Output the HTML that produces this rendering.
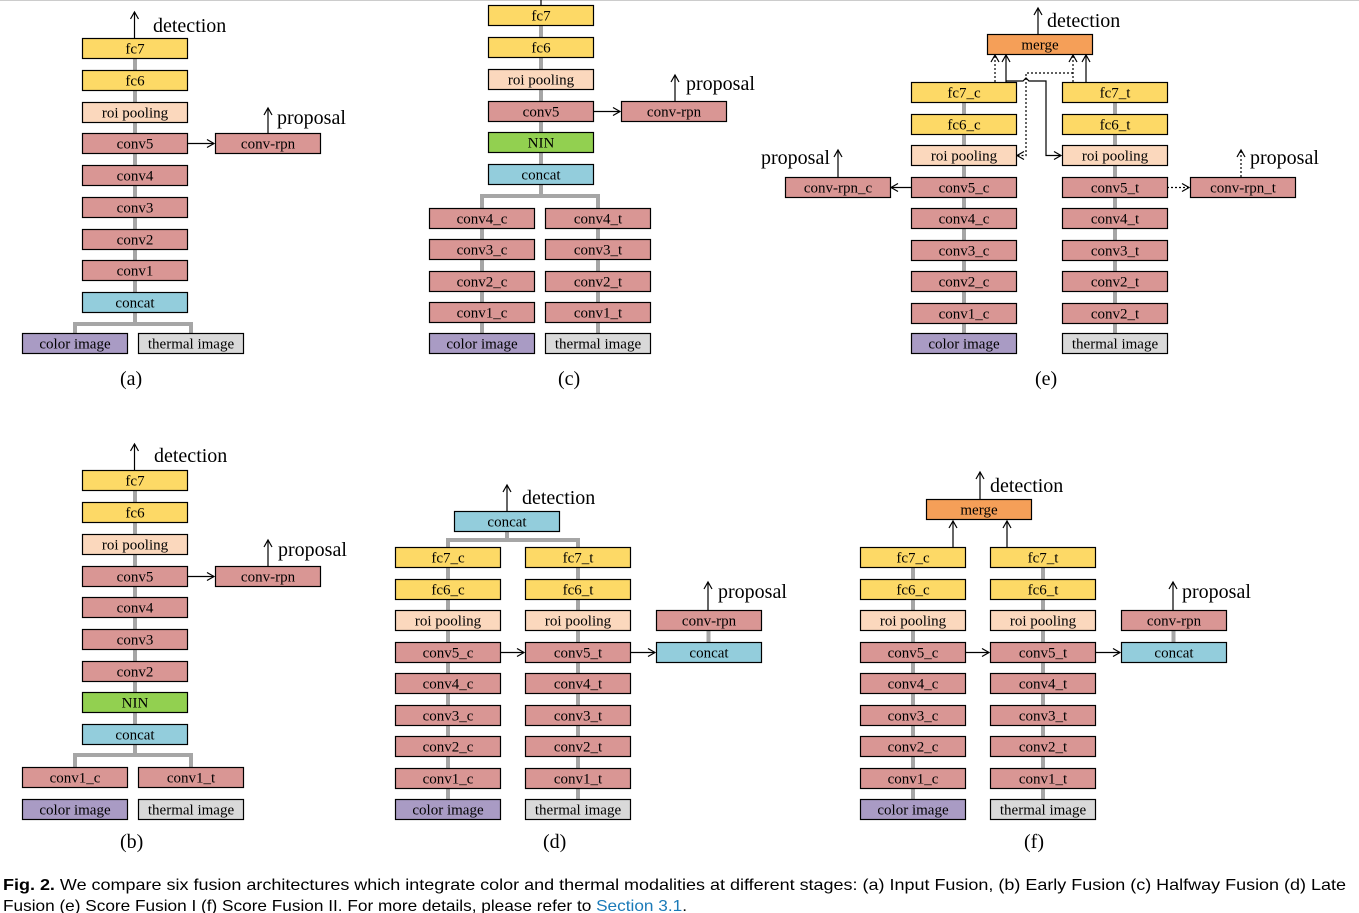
<!DOCTYPE html>
<html><head><meta charset="utf-8">
<style>
html,body{margin:0;padding:0;background:#fff;}
svg{display:block;}
.bt{font-family:"Liberation Serif",serif;font-size:15px;}
.lb{font-family:"Liberation Serif",serif;font-size:20px;}
.cap{font-family:"Liberation Sans",sans-serif;font-size:16px;}
</style></head>
<body>
<svg id="fig" width="1359" height="913" viewBox="0 0 1359 913" xmlns="http://www.w3.org/2000/svg">
<defs>
<marker id="ah" markerWidth="10" markerHeight="10" refX="8" refY="5" orient="auto" markerUnits="userSpaceOnUse">
<path d="M1,1 L8,5 L1,9" fill="none" stroke="#000" stroke-width="1.2"/>
</marker>
</defs>
<line x1="0" y1="0.5" x2="1359" y2="0.5" stroke="#ccc" stroke-width="1"/>
<g id="grey"></g>
<g id="arrows"></g>
<g id="boxes"></g>
<g id="labels"></g>
<text class="cap" x="3" y="890" textLength="1343" lengthAdjust="spacingAndGlyphs"><tspan font-weight="bold">Fig. 2.</tspan> We compare six fusion architectures which integrate color and thermal modalities at different stages: (a) Input Fusion, (b) Early Fusion (c) Halfway Fusion (d) Late</text>
<text class="cap" x="3" y="911" textLength="684" lengthAdjust="spacingAndGlyphs">Fusion (e) Score Fusion I (f) Score Fusion II. For more details, please refer to <tspan fill="#1a7ab8">Section 3.1</tspan>.</text>
</svg>
<script>
const NS='http://www.w3.org/2000/svg';
const W=105,H=21;
const C={fc:'#fdd966',roi:'#fbd8bd',conv:'#d99694',cat:'#93cddc',nin:'#92d050',col:'#a99bc4',th:'#d9d9d9',mg:'#f59f58'};
const G=document.getElementById('grey'),A=document.getElementById('arrows'),B=document.getElementById('boxes'),L=document.getElementById('labels');
function box(x,y,t,c,name){
  const g=document.createElementNS(NS,'g');
  
  
  const r=document.createElementNS(NS,'rect');
  r.setAttribute('x',x+0.5);r.setAttribute('y',y+0.5);r.setAttribute('width',W);r.setAttribute('height',H-1);
  r.setAttribute('fill',C[c]);r.setAttribute('stroke','#000');r.setAttribute('stroke-width','1.2');
  g.appendChild(r);
  const tx=document.createElementNS(NS,'text');
  tx.setAttribute('class','bt');tx.setAttribute('x',x+W/2+0.5);tx.setAttribute('y',y+15.5);tx.setAttribute('text-anchor','middle');
  tx.textContent=t;g.appendChild(tx);B.appendChild(g);
}
function gl(pts){
  const p=document.createElementNS(NS,'polyline');
  p.setAttribute('points',pts.map(a=>a.join(',')).join(' '));
  p.setAttribute('fill','none');p.setAttribute('stroke','#a6a6a6');p.setAttribute('stroke-width','4');
  G.appendChild(p);
}
function ar(pts,dash,noHead){
  const p=document.createElementNS(NS,'polyline');
  p.setAttribute('points',pts.map(a=>a.join(',')).join(' '));
  p.setAttribute('fill','none');p.setAttribute('stroke','#000');p.setAttribute('stroke-width','1.2');
  if(dash)p.setAttribute('stroke-dasharray','2,2');
  if(!noHead)p.setAttribute('marker-end','url(#ah)');
  A.appendChild(p);
}
function lab(x,y,t,name,cls){
  const tx=document.createElementNS(NS,'text');
  tx.setAttribute('class',cls||'lb');tx.setAttribute('x',x);tx.setAttribute('y',y);
  
  
  tx.textContent=t;L.appendChild(tx);
}
function col(x,items,prefix,linkTo){
  const cx=x+W/2+0.5;
  if(linkTo!==false){gl([[cx,items[0][0]],[cx,items[items.length-1][0]]]);}
  items.forEach(it=>box(x,it[0],it[1],it[2],prefix+'-'+it[1].replace(/[ _]/g,'-')));
}
const cx=x=>x+W/2+0.5;

// ---------- (a)
col(82,[[38,'fc7','fc'],[70,'fc6','fc'],[102,'roi pooling','roi'],[133,'conv5','conv'],[165,'conv4','conv'],[197,'conv3','conv'],[229,'conv2','conv'],[260,'conv1','conv'],[292,'concat','cat']],'a');
gl([[cx(82),313],[cx(82),324],[75,324],[75,333]]);gl([[cx(82),324],[191,324],[191,333]]);
box(22,333,'color image','col','a-color-image');box(138,333,'thermal image','th','a-thermal-image');
box(215,133,'conv-rpn','conv','a-conv-rpn');
ar([[187,143.5],[214,143.5]]);
ar([[134.5,38],[134.5,12]]);lab(153,32,'detection','a-detection-label');
ar([[268,133],[268,108]]);lab(277,124,'proposal','a-proposal-label');
lab(120,385,'(a)','a-caption','lb');

// ---------- (b)
col(82,[[470,'fc7','fc'],[502,'fc6','fc'],[534,'roi pooling','roi'],[566,'conv5','conv'],[597,'conv4','conv'],[629,'conv3','conv'],[661,'conv2','conv'],[692,'NIN','nin'],[724,'concat','cat']],'b');
gl([[cx(82),745],[cx(82),755],[75,755],[75,767]]);gl([[cx(82),755],[191,755],[191,767]]);
box(22,767,'conv1_c','conv','b-conv1-c');box(138,767,'conv1_t','conv','b-conv1-t');
box(22,799,'color image','col','b-color-image');box(138,799,'thermal image','th','b-thermal-image');
box(215,566,'conv-rpn','conv','b-conv-rpn');
ar([[187,576.5],[214,576.5]]);
ar([[134.5,470],[134.5,444]]);lab(154,462,'detection','b-detection-label');
ar([[268,566],[268,540]]);lab(278,556,'proposal','b-proposal-label');
lab(120,848,'(b)','b-caption','lb');

// ---------- (c)
col(488,[[5,'fc7','fc'],[37,'fc6','fc'],[69,'roi pooling','roi'],[101,'conv5','conv'],[132,'NIN','nin'],[164,'concat','cat']],'c');
ar([[cx(488),5],[cx(488),0]],false,true);
gl([[cx(488),185],[cx(488),196],[cx(429),196],[cx(429),208]]);gl([[cx(488),196],[cx(545),196],[cx(545),208]]);
col(429,[[208,'conv4_c','conv'],[239,'conv3_c','conv'],[271,'conv2_c','conv'],[302,'conv1_c','conv'],[333,'color image','col']],'c-left');
col(545,[[208,'conv4_t','conv'],[239,'conv3_t','conv'],[271,'conv2_t','conv'],[302,'conv1_t','conv'],[333,'thermal image','th']],'c-right');
box(621,101,'conv-rpn','conv','c-conv-rpn');
ar([[593,111.5],[620,111.5]]);
ar([[675,101],[675,75]]);lab(686,90,'proposal','c-proposal-label');
lab(558,385,'(c)','c-caption','lb');

// ---------- (d)
box(454,511,'concat','cat','d-concat-top');
gl([[cx(454),532],[cx(454),540],[cx(395),540],[cx(395),547]]);gl([[cx(454),540],[cx(525),540],[cx(525),547]]);
const rowsD=[547,579,610,642,673,705,736,768,799];
const labC=['fc7_c','fc6_c','roi pooling','conv5_c','conv4_c','conv3_c','conv2_c','conv1_c','color image'];
const labT=['fc7_t','fc6_t','roi pooling','conv5_t','conv4_t','conv3_t','conv2_t','conv1_t','thermal image'];
const colsC=['fc','fc','roi','conv','conv','conv','conv','conv','col'];
const colsT=['fc','fc','roi','conv','conv','conv','conv','conv','th'];
col(395,rowsD.map((y,i)=>[y,labC[i],colsC[i]]),'d-left');
col(525,rowsD.map((y,i)=>[y,labT[i],colsT[i]]),'d-right');
ar([[500,652.5],[524,652.5]]);ar([[630,652.5],[655,652.5]]);
gl([[708.5,631],[708.5,642]]);
box(656,610,'conv-rpn','conv','d-conv-rpn');box(656,642,'concat','cat','d-concat-right');
ar([[507,511],[507,485]]);lab(522,504,'detection','d-detection-label');
ar([[708,610],[708,582]]);lab(718,598,'proposal','d-proposal-label');
lab(543,848,'(d)','d-caption','lb');

// ---------- (f)
box(926,499,'merge','mg','f-merge');
col(860,rowsD.map((y,i)=>[y,labC[i],colsC[i]]),'f-left');
col(990,rowsD.map((y,i)=>[y,labT[i],colsT[i]]),'f-right');
ar([[953,547],[953,521]]);ar([[1007,547],[1007,521]]);
ar([[965,652.5],[989,652.5]]);ar([[1095,652.5],[1120,652.5]]);
gl([[1173.5,631],[1173.5,642]]);
box(1121,610,'conv-rpn','conv','f-conv-rpn');box(1121,642,'concat','cat','f-concat');
ar([[980,499],[980,472]]);lab(990,492,'detection','f-detection-label');
ar([[1173,610],[1173,582]]);lab(1182,598,'proposal','f-proposal-label');
lab(1024,848,'(f)','f-caption','lb');

// ---------- (e)
box(987,34,'merge','mg','e-merge');
const rowsE=[82,114,145,177,208,240,271,303,333];
const eC=['fc7_c','fc6_c','roi pooling','conv5_c','conv4_c','conv3_c','conv2_c','conv1_c','color image'];
const eT=['fc7_t','fc6_t','roi pooling','conv5_t','conv4_t','conv3_t','conv2_t','conv2_t','thermal image'];
col(911,rowsE.map((y,i)=>[y,eC[i],colsC[i]]),'e-left');
col(1062,rowsE.map((y,i)=>[y,eT[i],colsT[i]]),'e-right');
box(785,177,'conv-rpn_c','conv','e-conv-rpn-c');box(1190,177,'conv-rpn_t','conv','e-conv-rpn-t');
ar([[911,187.5],[891,187.5]]);ar([[1167,187.5],[1189,187.5]],true);
ar([[838,177],[838,150]]);lab(761,164,'proposal','e-proposal-left-label');
ar([[1241,177],[1241,150]],true);lab(1250,164,'proposal','e-proposal-right-label');
ar([[1038,34],[1038,8]]);lab(1047,27,'detection','e-detection-label');
ar([[1006,82],[1006,55]]);ar([[995,82],[995,55]],true);
ar([[1086,82],[1086,55]]);ar([[1073,82],[1073,55]],true);
ar([[1006,81],[1023,81],[1026,78],[1029,81],[1046,81],[1046,155.5],[1061,155.5]]);
ar([[1073,73],[1026,73],[1026,155.5],[1017,155.5]],true);
lab(1035,385,'(e)','e-caption','lb');
</script>
</body></html>
